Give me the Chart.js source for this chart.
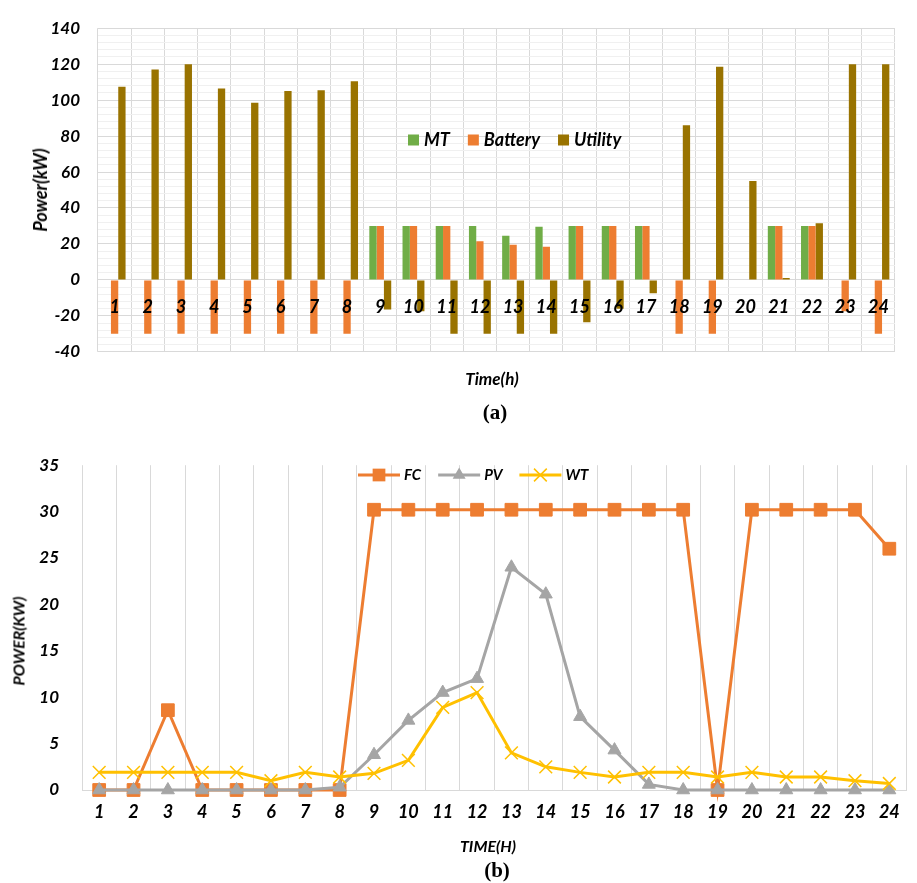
<!DOCTYPE html>
<html lang="en">
<head>
<meta charset="utf-8">
<title>Power dispatch</title>
<script src="https://cdn.jsdelivr.net/npm/chart.js@4.4.1/dist/chart.umd.min.js"></script>
<style>
  body { margin: 0; background: #fff; }
  #hoja { position: relative; width: 917px; height: 883px; font-family: Lato, 'Open Sans', sans-serif; }
  canvas { position: absolute; left: 0; }
  .txt { position: absolute; font-weight: bold; font-style: italic; color: #000; white-space: nowrap; transform: translate(-50%, -50%); }
  .vert { transform: translate(-50%, -50%) rotate(-90deg); }
  .cap { position: absolute; font-family: 'Liberation Serif', 'Times New Roman', serif; font-weight: bold; font-size: 21px; transform: translate(-50%, -50%); }
</style>
</head>
<body>
<div id="hoja">
  <canvas id="barras" width="917" height="380" style="top:0"></canvas>
  <canvas id="lineas" width="917" height="400" style="top:440px"></canvas>
  <div class="txt vert" style="left:40px; top:190px; font-size:18px;">Power(kW)</div>
  <div class="txt" style="left:492px; top:378px; font-size:17px;">Time(h)</div>
  <div class="cap" style="left:495px; top:412px;">(a)</div>
  <div class="txt vert" style="left:18px; top:641px; font-size:16px;">POWER(KW)</div>
  <div class="txt" style="left:488px; top:845px; font-size:16px;">TIME(H)</div>
  <div class="cap" style="left:497px; top:870px;">(b)</div>
</div>
<script>
// horas del dia
const horas = ['1','2','3','4','5','6','7','8','9','10','11','12','13','14','15','16','17','18','19','20','21','22','23','24'];

// (a) despacho: MT, bateria y red (kW)
const mtKW      = [0, 0, 0, 0, 0, 0, 0, 0, 30, 30, 30, 30, 24.5, 29.5, 30, 30, 30, 0, 0, 0, 30, 30, 0, 0];
const bateriaKW = [-30, -30, -30, -30, -30, -30, -30, -30, 30, 30, 30, 21.5, 19.5, 18.5, 30, 30, 30, -30, -30, 0, 30, 30, -17.5, -30];
const redKW     = [107.5, 117, 120, 106.5, 98.5, 105, 105.5, 110.5, -16.5, -17.5, -30, -30, -30, -30, -23.5, -16, -7.5, 86, 118.5, 55, 1, 31.5, 120, 120];

// (b) renovables y celda de combustible (kW)
const fcKW = [0, 0, 8.6, 0, 0, 0, 0, 0, 30.2, 30.2, 30.2, 30.2, 30.2, 30.2, 30.2, 30.2, 30.2, 30.2, 0, 30.2, 30.2, 30.2, 30.2, 26];
const pvKW = [0, 0, 0, 0, 0, 0, 0, 0.3, 3.8, 7.5, 10.5, 12, 24, 21.1, 7.9, 4.3, 0.6, 0, 0, 0, 0, 0, 0, 0];
const wtKW = [1.9, 1.9, 1.9, 1.9, 1.9, 1.0, 1.9, 1.4, 1.8, 3.2, 8.9, 10.5, 4.0, 2.5, 1.9, 1.4, 1.9, 1.9, 1.4, 1.9, 1.4, 1.4, 1.0, 0.7];

const fuenteNegrita = (size) => ({ family: 'Lato', size: size, weight: 'bold', style: 'italic' });

// marcador simple para la leyenda
function dibujarMarcador(ctx, estilo, x, y, r, color) {
    ctx.fillStyle = color;
    ctx.strokeStyle = color;
    ctx.beginPath();
    if (estilo === 'rect') {
        const s = r * Math.SQRT1_2;
        ctx.rect(x - s, y - s, 2 * s, 2 * s);
        ctx.fill();
    } else if (estilo === 'triangle') {
        for (let k = 0; k < 3; k++) {
            const a = k * 2 * Math.PI / 3;
            const px = x + Math.sin(a) * r, py = y - Math.cos(a) * r;
            if (k === 0) ctx.moveTo(px, py); else ctx.lineTo(px, py);
        }
        ctx.closePath();
        ctx.fill();
    } else if (estilo === 'crossRot') {
        const d = r * Math.SQRT1_2;
        ctx.lineWidth = 1.5;
        ctx.moveTo(x - d, y - d); ctx.lineTo(x + d, y + d);
        ctx.moveTo(x - d, y + d); ctx.lineTo(x + d, y - d);
        ctx.stroke();
    }
}

// leyenda tipo Excel dibujada donde se indique
const leyendaManual = {
    id: 'leyendaManual',
    afterDraw(chart, args, opts) {
        if (!opts || !opts.items) return;
        const ctx = chart.ctx;
        ctx.save();
        ctx.font = opts.font;
        ctx.textBaseline = 'middle';
        let x = opts.x;
        const y = opts.y;
        opts.items.forEach(i => {
            const ds = chart.data.datasets[i];
            if (opts.tipo === 'cuadro') {
                ctx.fillStyle = ds.backgroundColor;
                ctx.fillRect(x, y - opts.lado / 2, opts.lado, opts.lado);
                x += opts.lado + opts.hueco;
            } else {
                ctx.strokeStyle = ds.borderColor;
                ctx.lineWidth = ds.borderWidth;
                ctx.beginPath();
                ctx.moveTo(x, y);
                ctx.lineTo(x + opts.largo, y);
                ctx.stroke();
                dibujarMarcador(ctx, ds.pointStyle, x + opts.largo / 2, y, ds.pointRadius, ds.pointBorderColor);
                x += opts.largo + opts.hueco;
            }
            ctx.fillStyle = '#000';
            ctx.fillText(ds.label, x, y);
            x += ctx.measureText(ds.label).width + opts.espacio;
        });
        ctx.restore();
    }
};

new Chart(document.getElementById('barras'), {
    type: 'bar',
    data: {
        labels: horas,
        datasets: [
            { label: 'MT', data: mtKW, backgroundColor: '#70AD47' },
            { label: 'Battery', data: bateriaKW, backgroundColor: '#ED7D31' },
            { label: 'Utility', data: redKW, backgroundColor: '#997300' }
        ]
    },
    options: {
        responsive: false,
        animation: false,
        categoryPercentage: 0.66,
        barPercentage: 1.0,
        layout: { padding: { left: 0, right: 22, top: 17, bottom: 25.5 } },
        plugins: {
            legend: { display: false },
            tooltip: { enabled: false },
            leyendaManual: {
                tipo: 'cuadro', items: [0, 1, 2], x: 408, y: 140, lado: 11, hueco: 5, espacio: 18,
                font: 'italic bold 18px Lato'
            }
        },
        scales: {
            x: {
                position: { y: 0 },
                offset: true,
                grid: { offset: true, color: '#d9d9d9', drawTicks: false },
                border: { display: false },
                // z: 1 -> etiquetas de hora por encima de las barras
                ticks: { z: 1, padding: 16, autoSkip: false, maxRotation: 0, color: '#000', font: fuenteNegrita(18) }
            },
            y: {
                min: -40,
                max: 140,
                afterFit: (scale) => { scale.width = 98; },
                grid: {
                    drawTicks: false,
                    color: (c) => (c.tick && c.tick.value % 20 === 0) ? '#d9d9d9' : '#f0f0f0'
                },
                border: { display: false },
                ticks: {
                    stepSize: 4,
                    maxTicksLimit: 100,
                    autoSkip: false,
                    padding: 18,
                    color: '#000',
                    font: fuenteNegrita(17),
                    callback: (v) => v % 20 === 0 ? v : ''
                }
            }
        }
    },
    plugins: [leyendaManual]
});

new Chart(document.getElementById('lineas'), {
    type: 'line',
    data: {
        labels: horas,
        datasets: [
            {
                label: 'FC', data: fcKW, order: 2, clip: false,
                borderColor: '#ED7D31', backgroundColor: '#ED7D31', borderWidth: 3, tension: 0,
                pointStyle: 'rect', pointRadius: 9, pointBackgroundColor: '#ED7D31', pointBorderColor: '#ED7D31', pointBorderWidth: 1
            },
            {
                label: 'PV', data: pvKW, order: 1, clip: false,
                borderColor: '#A5A5A5', backgroundColor: '#A5A5A5', borderWidth: 3, tension: 0,
                pointStyle: 'triangle', pointRadius: 7.5, pointBackgroundColor: '#A5A5A5', pointBorderColor: '#A5A5A5', pointBorderWidth: 1
            },
            {
                label: 'WT', data: wtKW, order: 0, clip: false,
                borderColor: '#FFC000', backgroundColor: '#FFC000', borderWidth: 3, tension: 0,
                pointStyle: 'crossRot', pointRadius: 9, pointBorderColor: '#FFC000', pointBorderWidth: 1.5
            }
        ]
    },
    options: {
        responsive: false,
        animation: false,
        layout: { padding: { left: 0, right: 2, top: 20.7, bottom: 0 } },
        plugins: {
            legend: { display: false },
            tooltip: { enabled: false },
            leyendaManual: {
                tipo: 'linea', items: [0, 1, 2], x: 358, y: 35, largo: 42, hueco: 4, espacio: 17,
                font: 'italic bold 15px Lato'
            }
        },
        scales: {
            x: {
                offset: true,
                afterFit: (scale) => { scale.height = 50; },
                grid: { offset: true, color: '#d9d9d9', drawTicks: false },
                border: { display: true, color: '#d9d9d9' },
                ticks: { padding: 11, autoSkip: false, maxRotation: 0, color: '#000', font: fuenteNegrita(18) }
            },
            y: {
                min: 0,
                max: 35,
                afterFit: (scale) => { scale.width = 82; },
                grid: { display: false },
                border: { display: false },
                ticks: { stepSize: 5, padding: 15, color: '#000', font: fuenteNegrita(17) }
            }
        }
    },
    plugins: [leyendaManual]
});
</script>
</body>
</html>
